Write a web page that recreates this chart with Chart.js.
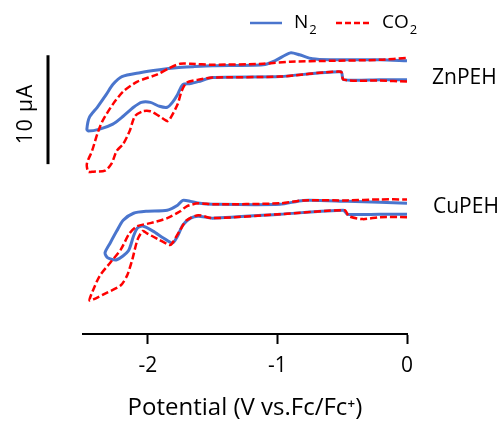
<!DOCTYPE html>
<html>
<head>
<title>CV ZnPEH / CuPEH under N2 and CO2</title>
<script src="https://cdn.jsdelivr.net/npm/chart.js"></script>
<style>
  body { margin: 0; background: #fff; }
</style>
</head>
<body>
<canvas id="cv" width="498" height="425"></canvas>
<script>
// potential (V vs Fc/Fc+) and current (µA, panels offset)
const znN2E = [0, -0.21, -0.49, -0.51, -0.98, -1.50, -1.61, -1.67, -1.73, -1.77, -1.81, -1.85, -1.91, -1.98, -2.05, -2.11, -2.19, -2.27, -2.37, -2.46, -2.47, -2.45, -2.39, -2.32, -2.27, -2.20, -2.06, -1.91, -1.78, -1.65, -1.50, -1.11, -1.02, -0.90, -0.83, -0.73, -0.59, -0.21, 0];
const znN2I = [23.36, 23.36, 23.36, 24.09, 23.64, 23.55, 23.18, 23.00, 22.91, 22.00, 21.27, 20.82, 20.91, 21.27, 21.27, 20.82, 20.00, 19.27, 18.82, 18.64, 18.82, 19.91, 20.82, 22.00, 22.91, 23.64, 24.00, 24.27, 24.45, 24.55, 24.64, 24.73, 25.09, 25.82, 25.64, 25.27, 25.18, 25.18, 25.09];

const znCO2E = [0, -0.21, -0.49, -0.51, -0.98, -1.50, -1.61, -1.70, -1.74, -1.77, -1.83, -1.85, -1.91, -1.98, -2.04, -2.10, -2.14, -2.19, -2.24, -2.28, -2.33, -2.42, -2.46, -2.47, -2.43, -2.39, -2.35, -2.27, -2.19, -2.08, -1.93, -1.83, -1.75, -1.67, -1.50, -1.11, -0.90, -0.59, -0.21, 0];
const znCO2I = [23.18, 23.27, 23.36, 24.09, 23.64, 23.55, 23.36, 23.09, 22.27, 21.09, 19.73, 19.55, 20.00, 20.45, 20.45, 20.00, 18.64, 17.45, 16.82, 15.64, 15.00, 14.91, 14.91, 15.64, 16.82, 18.36, 19.55, 21.09, 22.27, 23.18, 23.82, 24.45, 24.82, 24.82, 24.73, 24.82, 25.00, 25.09, 25.18, 25.36];

const cuN2E = [0, -0.21, -0.46, -0.49, -0.98, -1.50, -1.61, -1.67, -1.73, -1.77, -1.81, -1.88, -1.96, -2.04, -2.08, -2.11, -2.15, -2.24, -2.31, -2.33, -2.29, -2.24, -2.19, -2.11, -2.01, -1.85, -1.77, -1.73, -1.67, -1.60, -1.50, -0.98, -0.80, -0.46, -0.21, 0];
const cuN2I = [11.00, 11.00, 11.00, 11.36, 11.00, 10.64, 10.82, 10.64, 10.00, 9.00, 8.36, 8.82, 9.45, 9.91, 9.73, 9.00, 7.64, 6.82, 7.00, 7.45, 8.36, 9.45, 10.45, 11.09, 11.27, 11.36, 11.82, 12.27, 12.18, 12.00, 11.91, 11.91, 12.27, 12.18, 12.09, 12.00];

const cuCO2E = [0, -0.21, -0.34, -0.45, -0.48, -0.98, -1.50, -1.61, -1.70, -1.75, -1.81, -1.83, -1.91, -2.01, -2.04, -2.08, -2.12, -2.16, -2.21, -2.31, -2.42, -2.45, -2.42, -2.37, -2.29, -2.21, -2.14, -2.08, -1.98, -1.85, -1.75, -1.70, -1.61, -1.50, -0.98, -0.80, -0.46, -0.21, 0];
const cuCO2I = [10.73, 10.73, 10.55, 10.82, 11.36, 11.00, 10.64, 10.91, 10.45, 9.55, 8.36, 8.18, 8.64, 9.27, 9.45, 8.64, 6.82, 5.36, 4.45, 3.82, 3.18, 3.09, 4.09, 5.36, 6.55, 7.73, 9.27, 9.91, 10.18, 10.64, 11.27, 11.73, 12.00, 11.91, 12.00, 12.27, 12.27, 12.36, 12.36];

const xTicks = [-2, -1, 0];
const barFrom = 15.6;   // bottom of the 10 µA scale bar
const barSize = 10;

const FONT = '"Open Sans", Lato, sans-serif';
const BLUE = '#4a75cd';
const RED = '#ff0000';

const toPts = (E, I) => E.map((e, i) => ({ x: e, y: I[i] }));

function subText(ctx, main, sub, x, y) {
  ctx.font = '19px ' + FONT;
  ctx.fillText(main, x, y);
  const w = ctx.measureText(main).width;
  ctx.font = '13px ' + FONT;
  ctx.fillText(sub, x + w + 1, y + 7);
}

const overlay = {
  id: 'overlay',
  afterDraw(chart) {
    const ctx = chart.ctx;
    const ys = chart.scales.y;
    ctx.save();

    // scale bar
    ctx.strokeStyle = '#000';
    ctx.lineWidth = 3;
    ctx.beginPath();
    ctx.moveTo(48, ys.getPixelForValue(barFrom));
    ctx.lineTo(48, ys.getPixelForValue(barFrom + barSize));
    ctx.stroke();

    ctx.fillStyle = '#000';
    ctx.textBaseline = 'middle';
    ctx.textAlign = 'center';
    ctx.save();
    ctx.translate(26, 114);
    ctx.rotate(-Math.PI / 2);
    ctx.font = '21px ' + FONT;
    ctx.letterSpacing = '1px';
    ctx.fillText('10 µA', 0, 0);
    ctx.letterSpacing = '0px';
    ctx.restore();

    // panel labels
    ctx.textAlign = 'left';
    ctx.font = '21px ' + FONT;
    ctx.fillText('ZnPEH', 432, 78);
    ctx.fillText('CuPEH', 433, 207);

    // legend
    ctx.lineWidth = 2.5;
    ctx.strokeStyle = BLUE;
    ctx.beginPath(); ctx.moveTo(250, 23); ctx.lineTo(282, 23); ctx.stroke();
    ctx.strokeStyle = RED;
    ctx.setLineDash([6, 3]);
    ctx.beginPath(); ctx.moveTo(336, 23); ctx.lineTo(369, 23); ctx.stroke();
    ctx.setLineDash([]);
    subText(ctx, 'N', '2', 294, 23);
    subText(ctx, 'CO', '2', 382, 23);

    ctx.restore();
  }
};

const line = (label, E, I, color, dash, order) => ({
  label: label,
  data: toPts(E, I),
  showLine: true,
  borderColor: color,
  borderWidth: dash ? 2.5 : 3,
  borderDash: dash ? [7, 3] : [],
  pointRadius: 0,
  tension: 0.25,
  fill: false,
  order: order
});

new Chart(document.getElementById('cv'), {
  type: 'scatter',
  data: {
    datasets: [
      line('ZnPEH N2', znN2E, znN2I, BLUE, false, 2),
      line('ZnPEH CO2', znCO2E, znCO2I, RED, true, 1),
      line('CuPEH N2', cuN2E, cuN2I, BLUE, false, 2),
      line('CuPEH CO2', cuCO2E, cuCO2I, RED, true, 1)
    ]
  },
  options: {
    responsive: false,
    animation: false,
    layout: { padding: { left: 83, right: 91, top: 40, bottom: 2 } },
    plugins: { legend: { display: false }, tooltip: { enabled: false } },
    scales: {
      x: {
        type: 'linear',
        min: -2.5,
        max: 0,
        afterBuildTicks: (scale) => { scale.ticks = xTicks.map(v => ({ value: v })); },
        grid: { drawOnChartArea: false, drawTicks: true, tickLength: 10, tickWidth: 2, color: '#000' },
        border: { display: true, color: '#000', width: 2 },
        ticks: { color: '#000', font: { family: FONT, size: 21 }, padding: 9, maxRotation: 0, callback: v => String(v) },
        title: { display: true, text: 'Potential (V vs.Fc/Fc⁺)', color: '#000', font: { family: FONT, size: 24 }, padding: { top: 7, bottom: 0 } }
      },
      y: {
        display: false,
        min: 0,
        max: 27
      }
    }
  },
  plugins: [overlay]
});
</script>
</body>
</html>
